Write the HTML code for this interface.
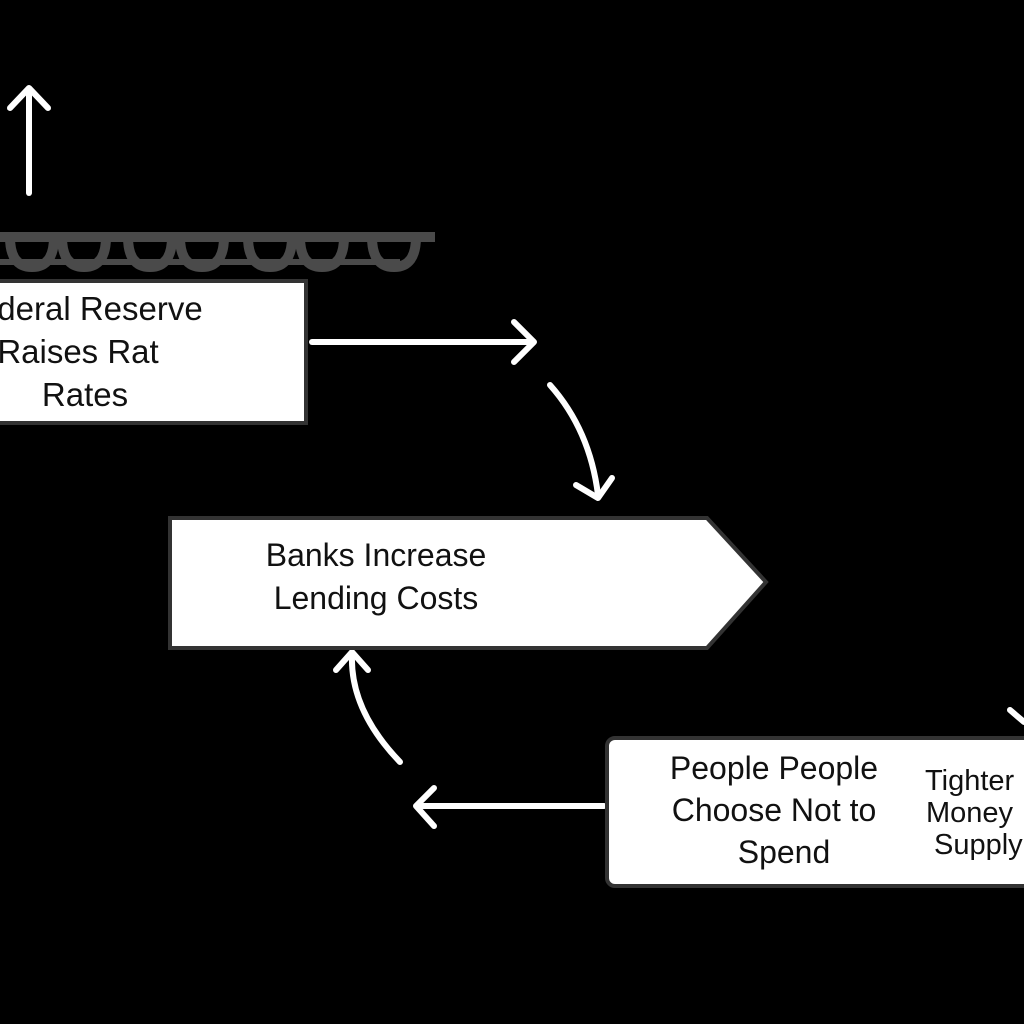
<!DOCTYPE html>
<html><head><style>
html,body{margin:0;padding:0;background:#000;width:1024px;height:1024px;overflow:hidden}
svg{display:block}
text{font-family:"Liberation Sans",sans-serif;fill:#111}
</style></head><body>
<svg width="1024" height="1024" viewBox="0 0 1024 1024">
<rect width="1024" height="1024" fill="#000"/>
<g stroke="#fff" stroke-width="6" fill="none" stroke-linecap="round" stroke-linejoin="round">
<line x1="29" y1="193" x2="29" y2="90"/>
<polyline points="10,108 29,88 48,108"/>
</g>
<g fill="none" stroke="#4a4a4a" stroke-width="10">
<path d="M0,237 L435,237"/>
<path d="M10,237 q0,30 22,30 q22,0 22,-30"/>
<path d="M62,237 q0,30 22,30 q22,0 22,-30"/>
<path d="M128,237 q0,30 22,30 q22,0 22,-30"/>
<path d="M180,237 q0,30 22,30 q22,0 22,-30"/>
<path d="M248,237 q0,30 22,30 q22,0 22,-30"/>
<path d="M300,237 q0,30 22,30 q22,0 22,-30"/>
<path d="M372,237 q0,30 22,30 q22,0 22,-30"/>
<line x1="0" y1="262" x2="400" y2="262" stroke-width="6"/>
</g>
<rect x="-5" y="281" width="311" height="142" fill="#fff" stroke="#333" stroke-width="4"/>
<text x="100" y="320" font-size="33" text-anchor="middle">deral Reserve</text>
<text x="78" y="363" font-size="33" text-anchor="middle">Raises Rat</text>
<text x="85" y="406" font-size="33" text-anchor="middle">Rates</text>
<g stroke="#fff" stroke-width="6" fill="none" stroke-linecap="round" stroke-linejoin="round">
<line x1="312" y1="342" x2="532" y2="342"/>
<polyline points="514,322 534,342 514,362"/>
<path d="M550,385 Q590,430 598,495"/>
<polyline points="576,485 598,498 612,478"/>
<path d="M400,762 Q350,710 352,655"/>
<polyline points="336,670 352,652 368,670"/>
<line x1="604" y1="806" x2="418" y2="806"/>
<polyline points="434,788 416,806 434,826"/>
<line x1="1010" y1="710" x2="1024" y2="722"/>
</g>
<polygon points="170,518 707,518 766,582 707,648 170,648" fill="#fff" stroke="#333" stroke-width="4"/>
<text x="376" y="566" font-size="32" text-anchor="middle">Banks Increase</text>
<text x="376" y="609" font-size="32" text-anchor="middle">Lending Costs</text>
<rect x="607" y="738" width="430" height="148" rx="8" fill="#fff" stroke="#333" stroke-width="4"/>
<text x="774" y="779" font-size="32" text-anchor="middle">People People</text>
<text x="774" y="821" font-size="32" text-anchor="middle">Choose Not to</text>
<text x="784" y="863" font-size="32" text-anchor="middle">Spend</text>
<text x="925" y="790" font-size="29">Tighter</text>
<text x="926" y="822" font-size="29">Money</text>
<text x="934" y="854" font-size="29">Supply</text>
</svg>
</body></html>
